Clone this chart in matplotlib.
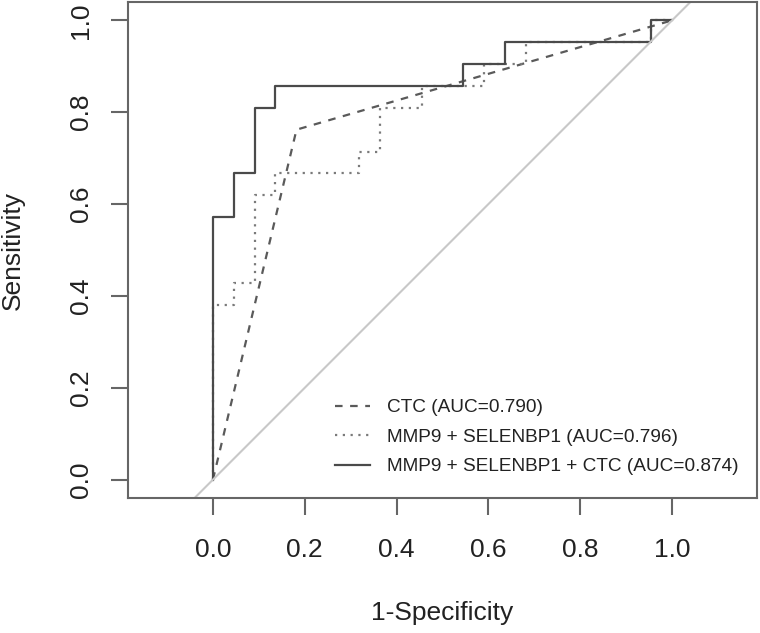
import matplotlib
matplotlib.use("Agg")
import matplotlib.pyplot as plt

plt.rcParams['font.family'] = ['Liberation Sans', 'DejaVu Sans']

# ROC curves (1-specificity, sensitivity)
ctc_fpr = [0.0, 0.182, 1.0]
ctc_tpr = [0.0, 0.762, 1.0]

mmp_sel_fpr = [0.0, 0.0, 0.045, 0.091, 0.136, 0.318, 0.364, 0.455, 0.591, 0.682, 0.955, 1.0]
mmp_sel_tpr = [0.0, 0.381, 0.429, 0.619, 0.667, 0.714, 0.810, 0.857, 0.905, 0.952, 1.0, 1.0]

combo_fpr = [0.0, 0.0, 0.045, 0.091, 0.136, 0.545, 0.636, 0.955, 1.0]
combo_tpr = [0.0, 0.571, 0.667, 0.810, 0.857, 0.905, 0.952, 1.0, 1.0]

labels = ["CTC (AUC=0.790)",
          "MMP9 + SELENBP1 (AUC=0.796)",
          "MMP9 + SELENBP1 + CTC (AUC=0.874)"]
ticks = [0.0, 0.2, 0.4, 0.6, 0.8, 1.0]

fig = plt.figure(figsize=(7.6, 6.33), dpi=100)
ax = fig.add_axes([128 / 760, 135 / 633, 629 / 760, 496 / 633])

ax.plot(ctc_fpr, ctc_tpr, color='#5a5a5a', lw=1.6, linestyle=(0, (3.4, 3.4)), label=labels[0])
ax.step(mmp_sel_fpr, mmp_sel_tpr, where='post', color='#7a7a7a', lw=1.6,
        linestyle=(0, (1, 2.5)), label=labels[1])
ax.step(combo_fpr, combo_tpr, where='post', color='#4a4a4a', lw=1.6, label=labels[2])
ax.axline((0, 0), slope=1, color='#c8c8c8', lw=1.5)

ax.set_xlim(-0.185, 1.185)
ax.set_ylim(-0.04, 1.04)
ax.set_xticks(ticks)
ax.set_yticks(ticks)
ax.set_xticklabels([f"{t:.1f}" for t in ticks])
ax.set_yticklabels([f"{t:.1f}" for t in ticks], rotation=90, va='center')

for sp in ax.spines.values():
    sp.set_color('#666666')
    sp.set_linewidth(1.5)
ax.tick_params(axis='both', length=12, width=1.5, color='#666666',
               labelsize=19, labelcolor='#222222')
ax.tick_params(axis='x', pad=17)
ax.tick_params(axis='y', pad=13)

ax.set_xlabel("1-Specificity", fontsize=19, color='#222222', labelpad=28)
ax.set_ylabel("Sensitivity", fontsize=19, color='#222222', labelpad=32)

leg = ax.legend(loc='upper left', bbox_to_anchor=(335 / 760, 1 - 399 / 633),
                bbox_transform=fig.transFigure, frameon=False, fontsize=13.7,
                handlelength=1.83, handletextpad=0.9, labelspacing=0.64,
                borderpad=0, borderaxespad=0)
for t in leg.get_texts():
    t.set_color('#222222')

fig.savefig("out.png", dpi=100)
